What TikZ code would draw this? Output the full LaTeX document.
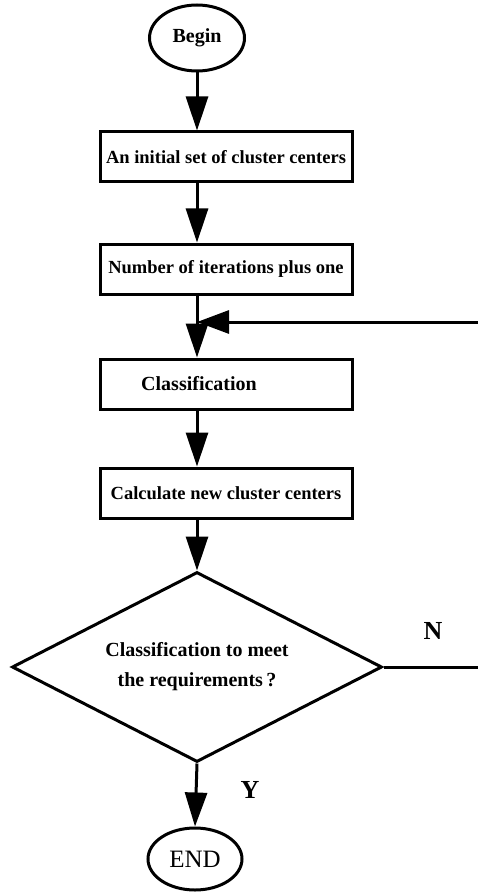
\documentclass[tikz,border=0pt]{standalone}
\usepackage{fontspec}
\setmainfont{Liberation Serif}
\usepackage{tikz}
\usetikzlibrary{arrows.meta}
\usetikzlibrary{positioning}
\usetikzlibrary{shapes.geometric}

\begin{document}
\begin{tikzpicture}[x=1pt,y=-1pt,line width=3pt,
  every node/.style={draw,inner sep=0pt,font=\fontsize{20}{30}\selectfont\bfseries},
  stepbox/.style={rectangle,minimum width=252pt,minimum height=50pt,font=\fontsize{18.5}{22}\selectfont\bfseries},
  flow/.style={-{Triangle[length=34pt,width=22pt]}},
  back/.style={-{Triangle[length=32pt,width=23pt]}}]
  \useasboundingbox (0,0) rectangle (478,893);
  \node[ellipse,minimum width=95pt,minimum height=66pt] (begin) at (197,38) {Begin};
  \node[stepbox] (init) at (226,157) {An initial set of cluster centers};
  \node[stepbox] (iter) at (226,269) {Number of iterations plus one};
  \node[stepbox,font=\fontsize{20}{24}\selectfont\bfseries] (classify) at (226,384) {Classification\hspace*{54pt}};
  \node[stepbox] (update) at (226,493) {Calculate new cluster centers};
  \node[diamond,aspect=2,minimum width=370pt,minimum height=190pt,align=center] (check) at (197,667)
    {Classification to meet\\the requirements\,?};
  \node[ellipse,minimum width=94pt,minimum height=62pt,font=\fontsize{25}{30}\selectfont] (finish) at (195,859) {END};
  \node[draw=none,font=\fontsize{26}{30}\selectfont\bfseries] (no) at (433,631) {N};
  \node[draw=none,font=\fontsize{26}{30}\selectfont\bfseries] (yes) at (250,790) {Y};
  \coordinate (join) at (197,322);
  \coordinate (loop) at (478,322);
  \coordinate (exit) at (478,667);
  \draw[flow](begin)--(begin |- init.north);
  \draw[flow](begin |- init.south)--(begin |- iter.north);
  \draw[flow](join |- iter.south)--(join |- classify.north);
  \draw[back](loop)--(join);
  \draw[flow](join |- classify.south)--(join |- update.north);
  \draw[flow](join |- update.south)--(check.north);
  \draw(check.east)--(exit);
  \draw[flow](check.south)--(finish.north);
\end{tikzpicture}
\end{document}
